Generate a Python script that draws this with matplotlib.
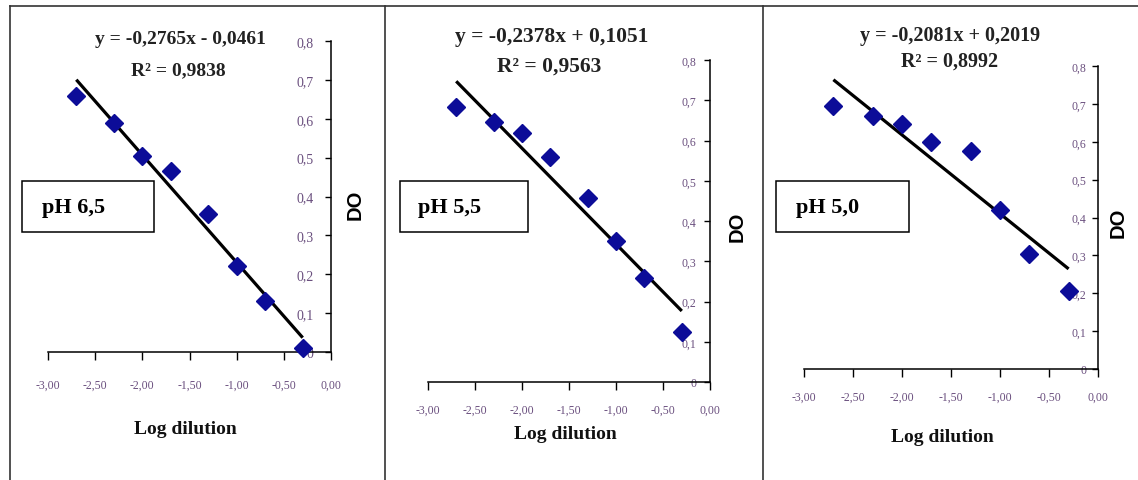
import numpy as np
import matplotlib
matplotlib.use("Agg")
import matplotlib.pyplot as plt
from matplotlib.lines import Line2D
from matplotlib.patches import Rectangle

# log dilution steps shared by the three pH series
log_dil = [-2.70, -2.30, -2.00, -1.70, -1.30, -1.00, -0.70, -0.30]

do_ph65 = [0.659, 0.589, 0.505, 0.465, 0.355, 0.222, 0.132, 0.010]
do_ph55 = [0.682, 0.645, 0.618, 0.558, 0.456, 0.350, 0.258, 0.123]
do_ph50 = [0.694, 0.668, 0.648, 0.600, 0.576, 0.420, 0.303, 0.207]

# linear trend (slope, intercept, r2)
fit_ph65 = (-0.2765, -0.0461, 0.9838)
fit_ph55 = (-0.2378, 0.1051, 0.9563)
fit_ph50 = (-0.2081, 0.2019, 0.8992)

ph_labels = ["pH 6,5", "pH 5,5", "pH 5,0"]

xticks = [-3.0, -2.5, -2.0, -1.5, -1.0, -0.5, 0.0]
yticks = [0, 0.1, 0.2, 0.3, 0.4, 0.5, 0.6, 0.7, 0.8]

W, H = 1138, 481
fig = plt.figure(figsize=(W / 100, H / 100), dpi=100)

def fx(px):
    return px / W

def fy(py):
    return 1 - py / H

# panel layout in pixels: x(-3), x(0), y(0), y(0.8), tick pads, label spots
panels = [
    dict(x0=48, x1=331, yb=353, yt=42, ypad=8.6, xpad=13, yfs=10,
         eq=(180, 40), r2=(178, 71), box=(22, 182, 154, 233), ph=(42, 208),
         xl=(185, 430), do=(355, 205), eqfs=14),
    dict(x0=428, x1=710, yb=383, yt=61, ypad=5.8, xpad=10, yfs=8.5,
         eq=(552, 37), r2=(549, 67), box=(400, 182, 528, 233), ph=(418, 208),
         xl=(565, 435), do=(737, 227), eqfs=15.5),
    dict(x0=804, x1=1098, yb=370, yt=67, ypad=4.3, xpad=10, yfs=8.5,
         eq=(950, 36), r2=(950, 62), box=(776, 182, 909, 233), ph=(796, 208),
         xl=(942, 438), do=(1118, 223), eqfs=14.5),
]

series = [do_ph65, do_ph55, do_ph50]
fits = [fit_ph65, fit_ph55, fit_ph50]

serif = "Liberation Serif"
tick_col = "#6a4f7e"

for p, yv, fit, lab in zip(panels, series, fits, ph_labels):
    ax = fig.add_axes([fx(p["x0"]), fy(p["yb"]),
                       fx(p["x1"] - p["x0"]), (p["yb"] - p["yt"]) / H])
    ax.set_xlim(-3, 0)
    ax.set_ylim(0, 0.8)
    ax.patch.set_visible(False)
    for s in ["top", "right"]:
        ax.spines[s].set_visible(False)
    ax.spines["left"].set_position(("data", 0))
    ax.spines["left"].set_linewidth(1.1)
    ax.spines["bottom"].set_linewidth(1.1)

    ax.set_xticks(xticks)
    ax.set_xticklabels([f"{t:.2f}".replace(".", ",") for t in xticks])
    ax.set_yticks(yticks)
    ax.set_yticklabels(["0"] + [f"{t:.1f}".replace(".", ",") for t in yticks[1:]])
    ax.tick_params(axis="x", direction="out", length=6, width=1, pad=p["xpad"],
                   labelsize=8.5, labelcolor=tick_col)
    ax.tick_params(axis="y", direction="out", length=4, width=1, pad=p["ypad"],
                   labelsize=p["yfs"], labelcolor=tick_col)
    for t in ax.get_xticklabels() + ax.get_yticklabels():
        t.set_fontfamily(serif)

    slope, icpt, r2 = fit
    xs = np.array([log_dil[0], log_dil[-1]])
    ax.plot(xs, slope * xs + icpt, color="black", lw=2.3, solid_capstyle="butt",
            zorder=2)
    ax.plot(log_dil, yv, ls="none", marker="D", ms=9.5, color="#0c0c98",
            zorder=3, clip_on=False)

    sign = "-" if icpt < 0 else "+"
    eq = f"y = {slope:.4f}x {sign} {abs(icpt):.4f}".replace(".", ",")
    fig.text(fx(p["eq"][0]), fy(p["eq"][1]), eq, ha="center", va="center",
             family=serif, weight="bold", fontsize=p["eqfs"], color="#222222")
    fig.text(fx(p["r2"][0]), fy(p["r2"][1]), f"R² = {r2:.4f}".replace(".", ","),
             ha="center", va="center", family=serif, weight="bold",
             fontsize=p["eqfs"], color="#222222")

    bx0, by0, bx1, by1 = p["box"]
    fig.patches.append(Rectangle((fx(bx0), fy(by1)), fx(bx1 - bx0), (by1 - by0) / H,
                                 transform=fig.transFigure, fill=False,
                                 edgecolor="black", lw=1.1))
    fig.text(fx(p["ph"][0]), fy(p["ph"][1]), lab, ha="left", va="center",
             family=serif, weight="bold", fontsize=16, color="black")

    fig.text(fx(p["xl"][0]), fy(p["xl"][1]), "Log dilution", ha="center",
             va="center", family=serif, weight="bold", fontsize=14, color="#111111")
    fig.text(fx(p["do"][0]), fy(p["do"][1]), "DO", ha="center", va="center",
             rotation=90, family="Liberation Sans", weight="bold", fontsize=14.5,
             color="black")

# frame lines around the three panels
fig.add_artist(Line2D([fx(10), 1], [fy(7), fy(7)], color="#333333", lw=1.2))
for vx in [10, 385, 763]:
    fig.add_artist(Line2D([fx(vx), fx(vx)], [fy(7), 0], color="#333333", lw=1.2))

fig.savefig("out.png", dpi=100)
